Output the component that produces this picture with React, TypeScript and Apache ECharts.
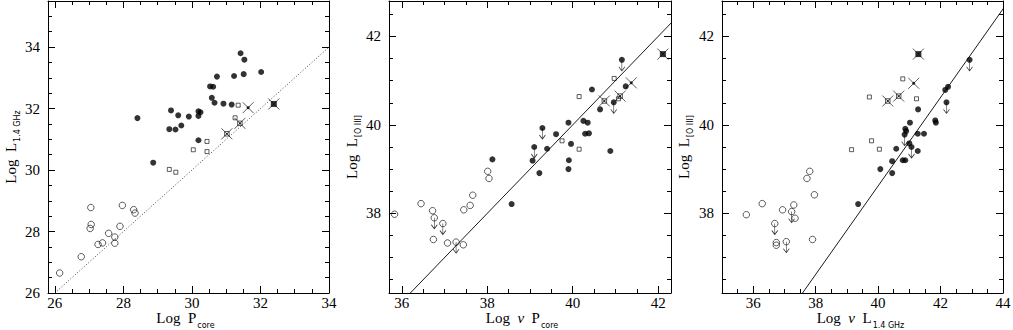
import React, { useEffect, useRef } from 'react';
import * as echarts from 'echarts';

// ---------- Panel 1: Log L_1.4GHz vs Log P_core ----------
const p1Filled = [
  [28.41, 31.69], [28.87, 30.24], [29.39, 31.94], [29.34, 31.33], [29.52, 31.32], [29.60, 31.78],
  [29.69, 31.45], [29.91, 31.74], [30.19, 31.91], [30.25, 31.88], [30.19, 31.76], [30.19, 30.97],
  [30.53, 32.72], [30.62, 32.71], [30.58, 32.35], [30.66, 32.19], [30.73, 33.04], [30.92, 32.16],
  [31.16, 32.13], [31.23, 33.06], [31.42, 33.80], [31.53, 33.59], [31.51, 33.12], [32.02, 33.19],
];
const p1Open = [
  [26.14, 26.65], [26.77, 27.18], [27.05, 28.78], [27.06, 28.23], [27.03, 28.10], [27.26, 27.58],
  [27.39, 27.63], [27.57, 27.94], [27.75, 27.82], [27.75, 27.62], [27.90, 28.17], [27.97, 28.85],
  [28.30, 28.71], [28.34, 28.60],
];
const p1Square = [
  [31.35, 32.11], [31.26, 31.70], [30.04, 30.66], [30.44, 30.93], [30.44, 30.60], [29.34, 30.02], [29.53, 29.93],
];
const p1CrossSquare = [[31.02, 31.18], [31.40, 31.52]];
const p1CrossDot = [[31.64, 32.03]];
const p1CrossFilled = [[32.39, 32.15]];
const p1Line = [[26, 26], [34, 34]];

// ---------- Panel 2: Log L_[O III] vs Log nu P_core ----------
const p2Filled = [
  [38.12, 39.22], [39.06, 39.19], [39.40, 39.46], [39.61, 39.79], [39.90, 40.05], [39.96, 39.57],
  [39.91, 39.20], [39.90, 39.00], [40.25, 40.09], [40.35, 40.05], [40.29, 39.80], [40.38, 39.81],
  [40.45, 40.80], [40.64, 40.35], [40.88, 39.41], [41.24, 40.87], [38.57, 38.21], [39.22, 38.91],
];
const p2FilledLimit = [[39.10, 39.50], [39.29, 39.93], [40.96, 40.51], [41.15, 41.47]];
const p2Open = [
  [35.83, 37.98], [36.45, 38.22], [36.74, 37.41], [37.07, 37.33], [37.44, 37.29], [37.45, 38.08],
  [37.60, 38.18], [37.66, 38.41], [38.01, 38.95], [38.04, 38.79], [36.72, 38.06],
];
const p2OpenLimit = [[36.76, 37.90], [36.96, 37.77], [37.27, 37.35]];
const p2Square = [[40.15, 40.64], [39.75, 39.64], [40.15, 39.45], [40.97, 41.05], [41.07, 40.59]];
const p2CrossSquare = [[40.74, 40.54], [41.11, 40.65]];
const p2CrossDot = [[41.37, 40.95]];
const p2CrossFilled = [[42.11, 41.60]];
const p2Line = [[36.2, 36.2], [42.8, 42.8]];

// ---------- Panel 3: Log L_[O III] vs Log nu L_1.4GHz ----------
const p3Filled = [
  [40.07, 39.00], [40.45, 39.18], [40.58, 39.46], [40.79, 39.20], [40.87, 39.20], [40.87, 39.91],
  [40.90, 39.86], [41.02, 40.05], [41.00, 39.58], [41.27, 39.80], [41.47, 39.80], [41.27, 39.41],
  [41.28, 40.35], [41.83, 40.10], [41.85, 40.05], [42.15, 40.79], [42.24, 40.86], [39.36, 38.21],
  [40.45, 38.91],
];
const p3FilledLimit = [[40.85, 39.78], [41.07, 39.50], [42.19, 40.51], [42.93, 41.47]];
const p3Open = [
  [35.78, 37.97], [36.29, 38.22], [36.94, 38.08], [37.30, 38.19], [37.34, 37.89], [36.74, 37.34],
  [36.74, 37.28], [37.90, 37.41], [37.72, 38.79], [37.81, 38.95], [37.96, 38.42],
];
const p3OpenLimit = [[37.23, 38.04], [36.69, 37.77], [37.06, 37.36]];
const p3Square = [[40.79, 41.04], [39.72, 40.63], [41.23, 40.59], [39.79, 39.64], [39.15, 39.44], [40.04, 39.45]];
const p3CrossSquare = [[40.31, 40.54], [40.66, 40.65]];
const p3CrossDot = [[41.14, 40.94]];
const p3CrossFilled = [[41.29, 41.60]];
const p3Line = [[37.58, 36.2], [44.18, 42.8]];

// ---------- Axis ticks ----------
const p1XTicks = [26, 28, 30, 32, 34];
const p1YTicks = [26, 28, 30, 32, 34];
const p2XTicks = [36, 38, 40, 42];
const p2YTicks = [38, 40, 42];
const p3XTicks = [36, 38, 40, 42, 44];
const p3YTicks = [38, 40, 42];

const FONT = 'Liberation Serif';

function minorTicks(min: number, max: number, majors: number[]) {
  const out: number[] = [];
  for (let v = Math.ceil(min * 2) / 2; v <= max + 1e-9; v += 0.5) {
    if (!majors.some((m) => Math.abs(m - v) < 1e-6)) out.push(v);
  }
  return out;
}

const nameStyle = (padRight: number) => ({
  fontFamily: FONT,
  fontSize: 15,
  lineHeight: 12,
  color: '#000',
  padding: [0, padRight, 0, 0],
  rich: {
    sub: { fontFamily: 'DejaVu Sans', fontSize: 8, color: '#000', verticalAlign: 'top', lineHeight: 9, padding: [9, 0, 0, 1] },
    nu: { fontFamily: FONT, fontSize: 15, lineHeight: 12, fontStyle: 'italic', color: '#000' },
  },
});

function xAxesFor(gi: number, min: number, max: number, majors: number[], name: string, padRight: number) {
  const base = { type: 'value', gridIndex: gi, min, max, splitLine: { show: false } };
  const minors = minorTicks(min, max, majors);
  const lineStyle = { color: '#000', width: 1 };
  return [
    {
      ...base, position: 'bottom', name, nameLocation: 'middle', nameGap: 19, nameMoveOverlap: false,
      nameTextStyle: nameStyle(padRight),
      axisLine: { show: true, lineStyle },
      axisTick: { show: true, inside: true, length: 7, customValues: majors, lineStyle },
      axisLabel: { show: true, customValues: majors, margin: 4, lineHeight: 12, fontFamily: FONT, fontSize: 15, color: '#000' },
    },
    {
      ...base, position: 'bottom', axisLine: { show: false },
      axisTick: { show: true, inside: true, length: 4, customValues: minors, lineStyle },
      axisLabel: { show: false },
    },
    {
      ...base, position: 'top', axisLine: { show: true, lineStyle },
      axisTick: { show: true, inside: true, length: 7, customValues: majors, lineStyle },
      axisLabel: { show: false },
    },
    {
      ...base, position: 'top', axisLine: { show: false },
      axisTick: { show: true, inside: true, length: 4, customValues: minors, lineStyle },
      axisLabel: { show: false },
    },
  ];
}

function yAxesFor(gi: number, min: number, max: number, majors: number[], name: string, gap: number) {
  const base = { type: 'value', gridIndex: gi, min, max, splitLine: { show: false } };
  const minors = minorTicks(min, max, majors);
  const lineStyle = { color: '#000', width: 1 };
  return [
    {
      ...base, position: 'left', name, nameLocation: 'middle', nameGap: gap, nameRotate: 90, nameMoveOverlap: false,
      nameTextStyle: nameStyle(0),
      axisLine: { show: true, lineStyle },
      axisTick: { show: true, inside: true, length: 7, customValues: majors, lineStyle },
      axisLabel: { show: true, customValues: majors, margin: 8, fontFamily: FONT, fontSize: 15, color: '#000' },
    },
    {
      ...base, position: 'left', axisLine: { show: false },
      axisTick: { show: true, inside: true, length: 4, customValues: minors, lineStyle },
      axisLabel: { show: false },
    },
    {
      ...base, position: 'right', axisLine: { show: true, lineStyle },
      axisTick: { show: true, inside: true, length: 7, customValues: majors, lineStyle },
      axisLabel: { show: false },
    },
    {
      ...base, position: 'right', axisLine: { show: false },
      axisTick: { show: true, inside: true, length: 4, customValues: minors, lineStyle },
      axisLabel: { show: false },
    },
  ];
}

const CROSS = 'path://M0,0L10,10M10,0L0,10';
const ARROW = 'path://M4,0L4,11M1,7L4,11L7,7';

function seriesFor(gi: number, d: any) {
  const ax = { xAxisIndex: gi * 4, yAxisIndex: gi * 4 };
  const s: any[] = [];
  s.push({
    ...ax, type: 'line', data: d.line, symbol: 'none', showSymbol: false, silent: true, clip: true,
    lineStyle: { color: d.dotted ? '#444' : '#000', width: d.dotted ? 1 : 0.9, type: d.dotted ? [1, 2] : 'solid' },
    z: 1,
  });
  const filled = { symbol: 'circle', symbolSize: 6, itemStyle: { color: '#000' } };
  const open = { symbol: 'circle', symbolSize: 6.5, itemStyle: { color: 'rgba(255,255,255,0)', borderColor: '#000', borderWidth: 0.8 } };
  const arrow = { symbol: ARROW, symbolSize: [6, 11], symbolOffset: [0, 5.5], itemStyle: { color: 'none', borderColor: '#000', borderWidth: 0.8 } };
  s.push({ ...ax, type: 'scatter', data: d.filled, ...filled, z: 3 });
  s.push({ ...ax, type: 'scatter', data: d.open, ...open, z: 3 });
  if (d.filledLimit) {
    s.push({ ...ax, type: 'scatter', data: d.filledLimit, ...filled, z: 3 });
    s.push({ ...ax, type: 'scatter', data: d.filledLimit, ...arrow, z: 4 });
  }
  if (d.openLimit) {
    s.push({ ...ax, type: 'scatter', data: d.openLimit, ...open, z: 3 });
    s.push({ ...ax, type: 'scatter', data: d.openLimit, ...arrow, z: 4 });
  }
  s.push({ ...ax, type: 'scatter', data: d.square, symbol: 'rect', symbolSize: 4,
    itemStyle: { color: 'rgba(255,255,255,0)', borderColor: '#000', borderWidth: 0.8 }, z: 3 });
  s.push({ ...ax, type: 'scatter', data: d.crossSquare, symbol: 'rect', symbolSize: 4.5,
    itemStyle: { color: 'rgba(255,255,255,0)', borderColor: '#000', borderWidth: 0.8 }, z: 3 });
  s.push({ ...ax, type: 'scatter', data: d.crossSquare, symbol: 'rect', symbolSize: 1.6, itemStyle: { color: '#000' }, z: 3 });
  s.push({ ...ax, type: 'scatter', data: d.crossDot, symbol: 'circle', symbolSize: 3, itemStyle: { color: '#000' }, z: 3 });
  s.push({ ...ax, type: 'scatter', data: d.crossFilled, symbol: 'rect', symbolSize: 6, itemStyle: { color: '#000' }, z: 3 });
  s.push({ ...ax, type: 'scatter', data: [...d.crossSquare, ...d.crossDot, ...d.crossFilled], symbol: CROSS, symbolSize: 11,
    itemStyle: { color: 'none', borderColor: '#000', borderWidth: 0.8 }, z: 4 });
  return s;
}

function buildOption() {
  const grids = [
    { left: 48, top: 1, width: 281, height: 292 },
    { left: 389, top: 1, width: 282, height: 292 },
    { left: 722, top: 1, width: 281, height: 292 },
  ].map((g) => ({ ...g, outerBoundsMode: 'none', containLabel: false }));

  const xAxis = [
    ...xAxesFor(0, 25.8, 34, p1XTicks, 'Log  P{sub|core}', 6),
    ...xAxesFor(1, 35.7, 42.3, p2XTicks, 'Log  {nu|ν}  P{sub|core}', 16),
    ...xAxesFor(2, 35, 44, p3XTicks, 'Log  {nu|ν}  L{sub|1.4 GHz}', 4),
  ];
  const yAxis = [
    ...yAxesFor(0, 26, 35.5, p1YTicks, 'Log  L{sub|1.4 GHz}', 31.5),
    ...yAxesFor(1, 36.2, 42.8, p2YTicks, 'Log  L{sub|[O III]}', 31.5),
    ...yAxesFor(2, 36.2, 42.8, p3YTicks, 'Log  L{sub|[O III]}', 32.5),
  ];
  const series = [
    ...seriesFor(0, { line: p1Line, dotted: true, filled: p1Filled, open: p1Open, square: p1Square,
      crossSquare: p1CrossSquare, crossDot: p1CrossDot, crossFilled: p1CrossFilled }),
    ...seriesFor(1, { line: p2Line, filled: p2Filled, filledLimit: p2FilledLimit, open: p2Open, openLimit: p2OpenLimit,
      square: p2Square, crossSquare: p2CrossSquare, crossDot: p2CrossDot, crossFilled: p2CrossFilled }),
    ...seriesFor(2, { line: p3Line, filled: p3Filled, filledLimit: p3FilledLimit, open: p3Open, openLimit: p3OpenLimit,
      square: p3Square, crossSquare: p3CrossSquare, crossDot: p3CrossDot, crossFilled: p3CrossFilled }),
  ];
  return {
    animation: false,
    backgroundColor: '#fff',
    grid: grids,
    xAxis,
    yAxis,
    series,
  };
}

export default function App() {
  const ref = useRef<HTMLDivElement>(null);
  useEffect(() => {
    const chart = echarts.init(ref.current as HTMLDivElement, null, { renderer: 'svg' });
    chart.setOption(buildOption() as any);
    return () => chart.dispose();
  }, []);
  return (
    <div
      ref={ref}
      style={{ position: 'absolute', left: 0, top: 0, width: 1013, height: 330, background: '#fff' }}
    />
  );
}
